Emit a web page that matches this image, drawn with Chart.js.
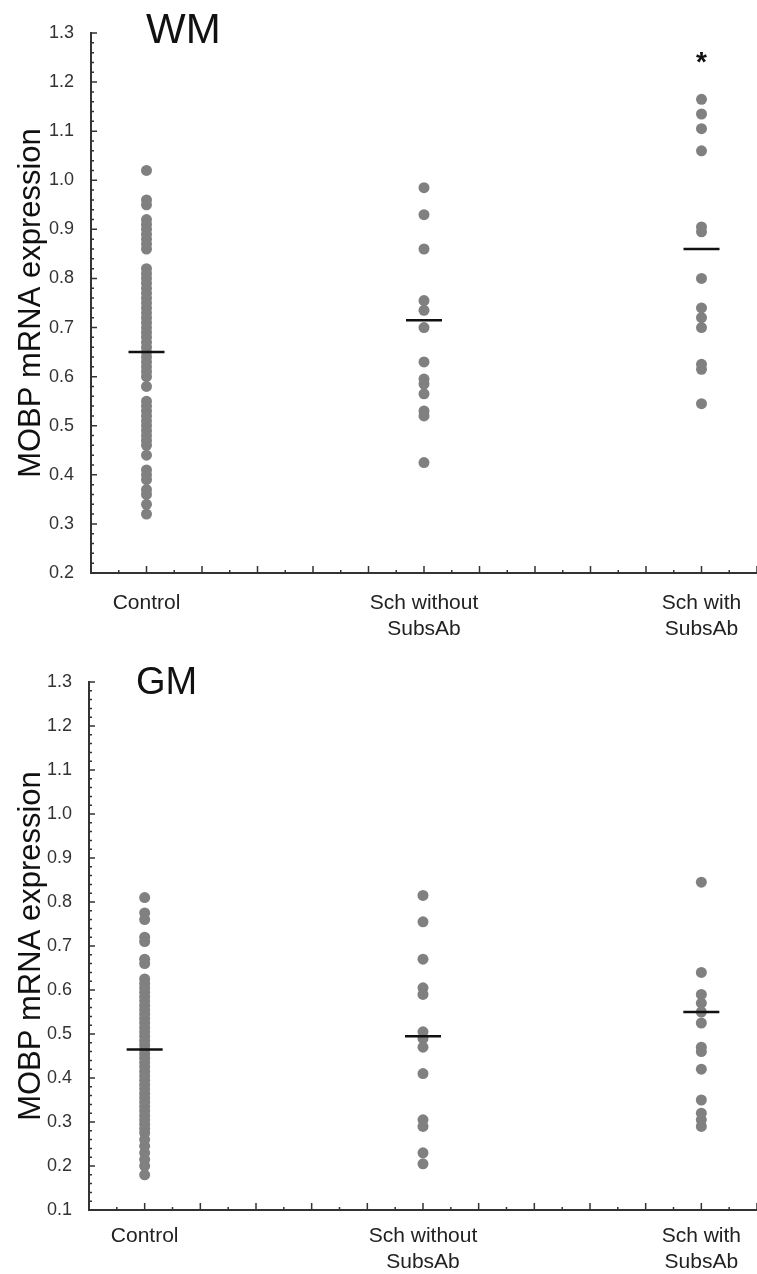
<!DOCTYPE html>
<html>
<head>
<meta charset="utf-8">
<script src="https://cdn.jsdelivr.net/npm/chart.js"></script>
<style>
  body { margin: 0; background: #fff; }
  canvas { display: block; }
</style>
</head>
<body>
<canvas id="wmChart" width="757" height="640"></canvas>
<canvas id="gmChart" width="757" height="634"></canvas>
<script>
const categories = [["Control"], ["Sch without", "SubsAb"], ["Sch with", "SubsAb"]];
const yTicksWM = [0.2, 1.3];
const yTicksGM = [0.1, 1.3];

// white matter, one array per group
const wmControl = [1.02, 0.96, 0.95, 0.92, 0.91, 0.90, 0.89, 0.88, 0.87, 0.86, 0.82, 0.81, 0.80, 0.79,
  0.78, 0.77, 0.76, 0.75, 0.74, 0.73, 0.72, 0.71, 0.70, 0.69, 0.68, 0.67, 0.66, 0.65, 0.64, 0.63, 0.62,
  0.61, 0.60, 0.58, 0.55, 0.54, 0.53, 0.52, 0.51, 0.50, 0.49, 0.48, 0.47, 0.46, 0.44, 0.41, 0.40, 0.39,
  0.37, 0.36, 0.34, 0.32];
const wmSchWithout = [0.985, 0.93, 0.86, 0.755, 0.735, 0.70, 0.63, 0.595, 0.585, 0.565, 0.53, 0.52, 0.425];
const wmSchWith = [1.165, 1.135, 1.105, 1.06, 0.905, 0.895, 0.80, 0.74, 0.72, 0.70, 0.625, 0.615, 0.545];
const wmMeans = [0.65, 0.715, 0.86];

// grey matter
const gmControl = [0.81, 0.775, 0.76, 0.72, 0.71, 0.67, 0.66, 0.625, 0.615, 0.605, 0.595, 0.585, 0.575,
  0.565, 0.555, 0.545, 0.535, 0.525, 0.515, 0.505, 0.495, 0.485, 0.475, 0.465, 0.455, 0.445, 0.435,
  0.425, 0.415, 0.405, 0.395, 0.385, 0.375, 0.365, 0.355, 0.345, 0.335, 0.325, 0.315, 0.305, 0.295,
  0.285, 0.275, 0.26, 0.245, 0.23, 0.215, 0.20, 0.18];
const gmSchWithout = [0.815, 0.755, 0.67, 0.605, 0.59, 0.505, 0.49, 0.47, 0.41, 0.305, 0.29, 0.23, 0.205];
const gmSchWith = [0.845, 0.64, 0.59, 0.57, 0.55, 0.525, 0.47, 0.46, 0.42, 0.35, 0.32, 0.305, 0.29];
const gmMeans = [0.465, 0.495, 0.55];

const FONT = "'Liberation Sans', Arial, sans-serif";
const dotColor = "#808080";

// small inward ticks plus the panel label and significance star
const decor = {
  id: "decor",
  afterDraw(chart, args, opts) {
    const ctx = chart.ctx;
    const xs = chart.scales.x;
    const ys = chart.scales.y;
    const left = chart.chartArea.left;
    const bottom = chart.chartArea.bottom;
    ctx.save();
    ctx.strokeStyle = "#333";
    ctx.lineWidth = 1.5;
    ctx.beginPath();
    for (let i = Math.round(ys.min * 50); i <= Math.round(ys.max * 50); i++) {
      const py = ys.getPixelForValue(i / 50);
      const len = i % 5 === 0 ? 6 : 3;
      ctx.moveTo(left, py);
      ctx.lineTo(left + len, py);
    }
    for (let i = Math.round(xs.min * 10); i <= Math.round(xs.max * 10); i++) {
      const px = xs.getPixelForValue(i / 10);
      const len = i % 2 === 0 ? 7 : 3;
      ctx.moveTo(px, bottom);
      ctx.lineTo(px, bottom - len);
    }
    ctx.stroke();

    ctx.fillStyle = "#111";
    ctx.font = opts.size + "px " + FONT;
    ctx.textBaseline = "alphabetic";
    ctx.fillText(opts.text, opts.x, opts.y);

    if (opts.star) {
      ctx.font = "bold 28px " + FONT;
      ctx.textAlign = "center";
      ctx.fillText("*", xs.getPixelForValue(opts.star[0]), ys.getPixelForValue(opts.star[1]) + 13);
    }
    ctx.restore();
  }
};

function makeChart(id, groups, means, yRange, axisX, plotTop, axisY, labelGap, label) {
  const canvas = document.getElementById(id);
  const datasets = [{
    data: means.map((m, i) => ({ x: i + 1, y: m })),
    pointStyle: "line",
    pointRadius: 18,
    borderColor: "#111",
    borderWidth: 2.5,
    showLine: false,
    order: 0
  }];
  groups.forEach((g, i) => {
    datasets.push({
      data: g.map(v => ({ x: i + 1, y: v })),
      pointRadius: 5.5,
      backgroundColor: dotColor,
      borderColor: dotColor,
      borderWidth: 0,
      order: 1
    });
  });

  return new Chart(canvas, {
    type: "scatter",
    data: { datasets },
    plugins: [decor],
    options: {
      responsive: false,
      animation: false,
      devicePixelRatio: 1,
      layout: { autoPadding: false, padding: { top: plotTop, left: 0, right: 0, bottom: 0 } },
      plugins: {
        legend: { display: false },
        tooltip: { enabled: false },
        decor: label
      },
      scales: {
        x: {
          type: "linear",
          min: 0.8,
          max: 3.2,
          afterBuildTicks: s => { s.ticks = [1, 2, 3].map(v => ({ value: v })); },
          afterFit: s => {
            s.height = canvas.height - axisY;
            s.paddingLeft = 0;
            s.paddingRight = 0;
          },
          grid: { display: false },
          border: { display: true, color: "#333", width: 2 },
          ticks: {
            autoSkip: false,
            maxRotation: 0,
            padding: labelGap,
            color: "#222",
            font: { family: FONT, size: 21, lineHeight: 1.25 },
            callback: v => categories[Math.round(v) - 1]
          }
        },
        y: {
          min: yRange[0],
          max: yRange[1],
          afterFit: s => {
            s.width = axisX;
            s.paddingTop = 0;
            s.paddingBottom = 0;
          },
          grid: { display: false },
          border: { display: true, color: "#333", width: 2 },
          ticks: {
            stepSize: 0.1,
            padding: 9,
            color: "#333",
            font: { family: FONT, size: 18 },
            callback: v => v.toFixed(1)
          },
          title: {
            display: true,
            text: "MOBP mRNA expression",
            color: "#111",
            font: { family: FONT, size: 31 },
            padding: { top: 13, bottom: 0 }
          }
        }
      }
    }
  });
}

makeChart("wmChart", [wmControl, wmSchWithout, wmSchWith], wmMeans, yTicksWM, 91, 33, 573, 9,
  { text: "WM", x: 146, y: 43, size: 42, star: [3, 1.25] });
makeChart("gmChart", [gmControl, gmSchWithout, gmSchWith], gmMeans, yTicksGM, 89, 42, 570, 5,
  { text: "GM", x: 136, y: 54, size: 38 });
</script>
</body>
</html>
